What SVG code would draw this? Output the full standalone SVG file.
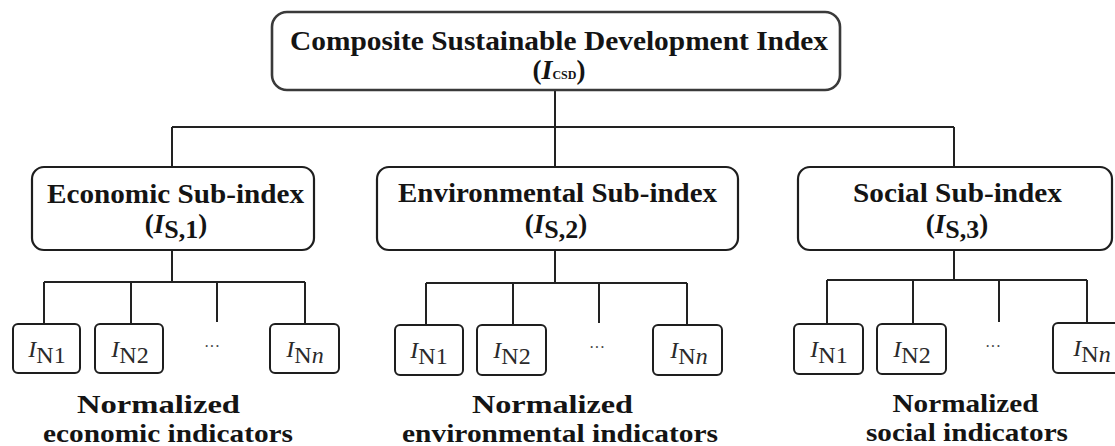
<svg xmlns="http://www.w3.org/2000/svg" width="1115" height="446" viewBox="0 0 1115 446">
  <style>
    .box { fill: #ffffff; stroke: #1e1e1e; stroke-width: 2.2; }
    .top { fill: #ffffff; stroke: #3a3a3a; stroke-width: 2.6; }
    .leaf { fill: #ffffff; stroke: #1e1e1e; stroke-width: 2; }
    .wire { fill: none; stroke: #222222; stroke-width: 2; }
    .bold { font-family: "Liberation Serif", "Times New Roman", serif; font-weight: bold; font-size: 27px; fill: #141414; }
    .cap { font-family: "Liberation Serif", "Times New Roman", serif; font-weight: bold; font-size: 25px; fill: #141414; }
    .sym { font-family: "Liberation Serif", "Times New Roman", serif; font-size: 24px; fill: #2a2a2a; }
    .dots { font-family: "Liberation Serif", "Times New Roman", serif; font-size: 16px; fill: #444444; }
  </style>

  <!-- connectors -->
  <g id="connectors" class="wire">
    <path d="M555 90 V127 M172 127 H954 M172 127 V167 M555 127 V167 M954 127 V167"/>
    <!-- economic branch -->
    <path d="M172 250 V282 M44 282 H305 M44 282 V324 M131 282 V324 M217 282 V322 M305 282 V324"/>
    <!-- environmental branch -->
    <path d="M555 250 V283 M426 283 H687 M426 283 V325 M513 283 V325 M599 283 V323 M687 283 V325"/>
    <!-- social branch -->
    <path d="M954 250 V280 M827 280 H1087 M827 280 V324 M913 280 V324 M999 280 V322 M1087 280 V324"/>
  </g>

  <!-- composite index -->
  <g id="composite">
    <rect class="top" x="272" y="12" width="568" height="78" rx="15"/>
    <text class="bold" x="559" y="50" text-anchor="middle" textLength="538" lengthAdjust="spacingAndGlyphs">Composite Sustainable Development Index</text>
    <text class="bold" x="559" y="79" text-anchor="middle">(<tspan font-style="italic" font-size="28">I</tspan><tspan font-size="12">CSD</tspan>)</text>
  </g>

  <!-- sub-indices -->
  <g id="economic">
    <rect class="box" x="32" y="167" width="282" height="83" rx="12"/>
    <text class="bold" x="175.5" y="203" text-anchor="middle" textLength="257" lengthAdjust="spacingAndGlyphs">Economic Sub-index</text>
    <text class="bold" x="176" y="233" text-anchor="middle" font-size="28">(<tspan font-style="italic">I</tspan><tspan font-size="26" dy="5">S,1</tspan><tspan dy="-5">)</tspan></text>
  </g>
  <g id="environmental">
    <rect class="box" x="377" y="167" width="361" height="83" rx="12"/>
    <text class="bold" x="557.5" y="202" text-anchor="middle" textLength="319" lengthAdjust="spacingAndGlyphs">Environmental Sub-index</text>
    <text class="bold" x="556" y="233" text-anchor="middle" font-size="28">(<tspan font-style="italic">I</tspan><tspan font-size="26" dy="5">S,2</tspan><tspan dy="-5">)</tspan></text>
  </g>
  <g id="social">
    <rect class="box" x="798" y="167" width="314" height="83" rx="12"/>
    <text class="bold" x="957.5" y="202" text-anchor="middle" textLength="209" lengthAdjust="spacingAndGlyphs">Social Sub-index</text>
    <text class="bold" x="957" y="233" text-anchor="middle" font-size="28">(<tspan font-style="italic">I</tspan><tspan font-size="26" dy="5">S,3</tspan><tspan dy="-5">)</tspan></text>
  </g>

  <!-- economic indicators -->
  <g id="eco-n1">
    <rect class="leaf" x="13" y="324" width="67" height="49" rx="5"/>
    <text class="sym" x="47" y="357" text-anchor="middle"><tspan font-style="italic">I</tspan><tspan dy="6">N1</tspan></text>
  </g>
  <g id="eco-n2">
    <rect class="leaf" x="95" y="324" width="68" height="49" rx="5"/>
    <text class="sym" x="130" y="357" text-anchor="middle"><tspan font-style="italic">I</tspan><tspan dy="6">N2</tspan></text>
  </g>
  <text class="dots" x="212" y="352" text-anchor="middle">···</text>
  <g id="eco-nn">
    <rect class="leaf" x="270" y="324" width="69" height="49" rx="5"/>
    <text class="sym" x="305" y="357" text-anchor="middle"><tspan font-style="italic">I</tspan><tspan dy="6">N<tspan font-style="italic">n</tspan></tspan></text>
  </g>
  <g id="eco-label">
    <text class="cap" x="158.5" y="413" text-anchor="middle" textLength="163" lengthAdjust="spacingAndGlyphs">Normalized</text>
    <text class="cap" x="168" y="442" text-anchor="middle" textLength="250" lengthAdjust="spacingAndGlyphs">economic indicators</text>
  </g>

  <!-- environmental indicators -->
  <g id="env-n1">
    <rect class="leaf" x="395" y="325" width="68" height="50" rx="5"/>
    <text class="sym" x="429" y="358" text-anchor="middle"><tspan font-style="italic">I</tspan><tspan dy="6">N1</tspan></text>
  </g>
  <g id="env-n2">
    <rect class="leaf" x="477" y="325" width="69" height="50" rx="5"/>
    <text class="sym" x="512" y="358" text-anchor="middle"><tspan font-style="italic">I</tspan><tspan dy="6">N2</tspan></text>
  </g>
  <text class="dots" x="597" y="353" text-anchor="middle">···</text>
  <g id="env-nn">
    <rect class="leaf" x="653" y="325" width="69" height="50" rx="5"/>
    <text class="sym" x="689" y="358" text-anchor="middle"><tspan font-style="italic">I</tspan><tspan dy="6">N<tspan font-style="italic">n</tspan></tspan></text>
  </g>
  <g id="env-label">
    <text class="cap" x="552.5" y="413" text-anchor="middle" textLength="161" lengthAdjust="spacingAndGlyphs">Normalized</text>
    <text class="cap" x="560" y="442" text-anchor="middle" textLength="316" lengthAdjust="spacingAndGlyphs">environmental indicators</text>
  </g>

  <!-- social indicators -->
  <g id="soc-n1">
    <rect class="leaf" x="794" y="324" width="69" height="50" rx="5"/>
    <text class="sym" x="829" y="357" text-anchor="middle"><tspan font-style="italic">I</tspan><tspan dy="6">N1</tspan></text>
  </g>
  <g id="soc-n2">
    <rect class="leaf" x="877" y="324" width="69" height="50" rx="5"/>
    <text class="sym" x="912" y="357" text-anchor="middle"><tspan font-style="italic">I</tspan><tspan dy="6">N2</tspan></text>
  </g>
  <text class="dots" x="993" y="352" text-anchor="middle">···</text>
  <g id="soc-nn">
    <rect class="leaf" x="1053" y="323" width="69" height="50" rx="5"/>
    <text class="sym" x="1092" y="356" text-anchor="middle"><tspan font-style="italic">I</tspan><tspan dy="6">N<tspan font-style="italic">n</tspan></tspan></text>
  </g>
  <g id="soc-label">
    <text class="cap" x="965.5" y="412" text-anchor="middle" textLength="146" lengthAdjust="spacingAndGlyphs">Normalized</text>
    <text class="cap" x="967" y="441" text-anchor="middle" textLength="202" lengthAdjust="spacingAndGlyphs">social indicators</text>
  </g>
</svg>
